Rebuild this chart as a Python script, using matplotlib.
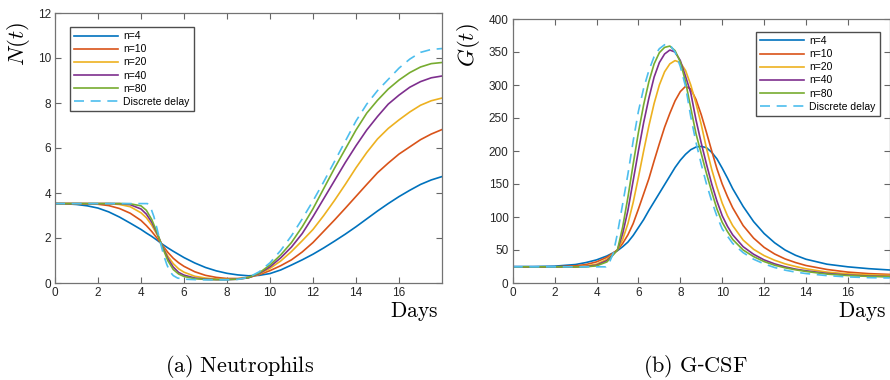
import matplotlib
matplotlib.use("Agg")
import matplotlib.pyplot as plt

plt.rcParams['font.family'] = ['Liberation Sans', 'DejaVu Sans']
plt.rcParams['mathtext.fontset'] = 'cm'

# ---- Neutrophils N(t) ----
t_n = [0, 0.5, 1, 1.5, 2, 2.5, 3, 3.5, 4, 4.25, 4.5, 4.75, 5, 5.25, 5.5, 5.75, 6, 6.5,
       7, 7.5, 8, 8.5, 9, 9.5, 10, 10.5, 11, 11.5, 12, 12.5, 13, 13.5, 14, 14.5, 15,
       15.5, 16, 16.5, 17, 17.5, 18]
n4_N = [3.53, 3.52, 3.49, 3.43, 3.33, 3.16, 2.93, 2.66, 2.38, 2.22, 2.07, 1.9, 1.72,
        1.56, 1.41, 1.27, 1.13, 0.89, 0.69, 0.54, 0.43, 0.36, 0.32, 0.34, 0.42, 0.58,
        0.8, 1.03, 1.28, 1.56, 1.86, 2.17, 2.5, 2.85, 3.2, 3.53, 3.84, 4.12, 4.38,
        4.58, 4.73]
n10_N = [3.53, 3.53, 3.53, 3.52, 3.5, 3.44, 3.31, 3.1, 2.78, 2.55, 2.29, 1.99, 1.67,
         1.36, 1.1, 0.9, 0.74, 0.5, 0.34, 0.25, 0.2, 0.2, 0.25, 0.37, 0.55, 0.77, 1.03,
         1.38, 1.8, 2.3, 2.8, 3.32, 3.85, 4.38, 4.9, 5.33, 5.73, 6.05, 6.37, 6.62, 6.82]
n20_N = [3.53, 3.53, 3.53, 3.53, 3.53, 3.53, 3.49, 3.39, 3.12, 2.9, 2.57, 2.14, 1.64,
         1.19, 0.86, 0.63, 0.48, 0.3, 0.22, 0.18, 0.17, 0.18, 0.24, 0.4, 0.65, 0.98,
         1.4, 1.88, 2.38, 3.0, 3.67, 4.38, 5.12, 5.8, 6.4, 6.87, 7.25, 7.6, 7.9, 8.1,
         8.22]
n40_N = [3.53, 3.53, 3.53, 3.53, 3.53, 3.53, 3.53, 3.48, 3.29, 3.06, 2.7, 2.2, 1.62,
         1.09, 0.71, 0.47, 0.35, 0.22, 0.17, 0.15, 0.15, 0.17, 0.23, 0.42, 0.72, 1.12,
         1.6, 2.2, 2.95, 3.75, 4.55, 5.35, 6.1, 6.8, 7.4, 7.95, 8.35, 8.7, 8.95, 9.12,
         9.2]
n80_N = [3.53, 3.53, 3.53, 3.53, 3.53, 3.53, 3.53, 3.52, 3.43, 3.23, 2.82, 2.24, 1.58,
         0.99, 0.6, 0.4, 0.29, 0.19, 0.16, 0.15, 0.15, 0.17, 0.24, 0.45, 0.8, 1.25,
         1.8, 2.5, 3.3, 4.2, 5.1, 5.95, 6.8, 7.55, 8.12, 8.62, 9.02, 9.35, 9.6, 9.75,
         9.8]
t_n_dd = [0, 4.3, 4.45, 4.6, 4.75, 4.9, 5.05, 5.2, 5.35, 5.5, 5.7, 6, 6.5, 7, 8, 8.5, 9,
          9.5, 10, 10.5, 11, 11.5, 12, 12.5, 13, 13.5, 14, 14.5, 15, 15.5, 16, 16.5,
          17, 17.5, 18]
dd_N = [3.53, 3.53, 3.35, 2.95, 2.4, 1.8, 1.25, 0.82, 0.5, 0.33, 0.22, 0.17, 0.15, 0.14,
        0.14, 0.16, 0.25, 0.5, 0.9, 1.45, 2.1, 2.85, 3.65, 4.5, 5.4, 6.3, 7.2, 7.95,
        8.55, 9.05, 9.55, 9.95, 10.25, 10.38, 10.42]

# ---- G-CSF G(t) ----
t_g = [0, 1, 2, 3, 3.5, 4, 4.5, 5, 5.25, 5.5, 5.75, 6, 6.25, 6.5, 6.75, 7, 7.25, 7.5,
       7.75, 8, 8.25, 8.5, 8.75, 9, 9.25, 9.5, 9.75, 10, 10.25, 10.5, 11, 11.5, 12,
       12.5, 13, 13.5, 14, 15, 16, 17, 18]
n4_G = [25, 25, 25.5, 28, 31, 35, 41, 49, 55, 62, 72, 84, 96, 110, 123, 136, 149, 162,
        175, 186, 195, 202, 206, 207, 205, 198, 188, 174, 159, 143, 116, 93, 75, 61, 50,
        42, 36, 28.5, 24.5, 21.7, 19.7]
n10_G = [24.5, 24.5, 24.5, 26, 28, 32, 39, 50, 60, 73, 90, 112, 135, 158, 185, 211, 236,
         257, 276, 290, 298, 294, 278, 255, 228, 200, 173, 150, 131, 114, 87, 68, 54, 44,
         36.5, 31, 26.5, 20.5, 16.5, 14.2, 13]
n20_G = [24.5, 24.5, 24.5, 24.5, 26, 28.5, 36, 50, 66, 90, 122, 160, 200, 238, 272, 300,
         320, 332, 337, 334, 322, 300, 272, 240, 204, 172, 145, 121, 102, 87, 65, 51,
         41.5, 34.5, 29, 25, 21.5, 16.5, 13.8, 12.3, 11.6]
n40_G = [24.5, 24.5, 24.5, 24.5, 25, 27, 34, 50, 75, 110, 155, 200, 243, 280, 312, 334,
         347, 353, 350, 337, 313, 288, 247, 212, 180, 150, 124, 102, 86, 73, 55, 43.5,
         35, 29, 24.5, 21, 18.5, 14.5, 12, 10.6, 9.8]
n80_G = [24.5, 24.5, 24.5, 24.5, 24.5, 26, 32, 50, 85, 130, 180, 228, 270, 305, 332, 349,
         357, 359, 352, 335, 305, 265, 226, 196, 166, 138, 112, 92, 78, 66, 50, 40,
         32.5, 27, 23, 20, 17.5, 13.5, 11.3, 10, 9.4]
t_g_dd = [0, 4.45, 4.6, 4.8, 5, 5.25, 5.5, 5.75, 6, 6.25, 6.5, 6.75, 7, 7.25, 7.5, 7.75,
          8, 8.25, 8.5, 8.75, 9, 9.25, 9.5, 9.75, 10, 10.5, 11, 11.5, 12, 12.5, 13, 13.5,
          14, 15, 16, 17, 18]
dd_G = [24.5, 24.5, 30, 45, 75, 120, 165, 215, 260, 295, 322, 343, 355, 361, 361, 350,
        328, 298, 252, 213, 180, 150, 124, 101, 82, 60, 46, 36, 29, 23.5, 19.5, 16.5,
        14.3, 11.2, 9.2, 8.1, 7.6]

labels = ['n=4', 'n=10', 'n=20', 'n=40', 'n=80', 'Discrete delay']
colors = ['#0072BD', '#D95319', '#EDB120', '#7E2F8E', '#77AC30', '#4DBEEE']

fig = plt.figure(figsize=(8.9, 3.8), dpi=100)
W, H = 890, 380


def px_axes(x0, y0, x1, y1):
    return fig.add_axes([x0 / W, 1 - y1 / H, (x1 - x0) / W, (y1 - y0) / H])


def style(ax):
    ax.set_xlim(0, 18)
    ax.set_xticks(range(0, 17, 2))
    ax.tick_params(direction='in', top=True, right=True, length=4, width=0.8,
                   labelsize=8.5, colors='0.15', color='0.4', pad=3)
    for s in ax.spines.values():
        s.set_color('0.45')
        s.set_linewidth(0.9)


ax1 = px_axes(55, 13, 442, 283)
series_N = [n4_N, n10_N, n20_N, n40_N, n80_N]
for y, c, lab in zip(series_N, colors, labels):
    ax1.plot(t_n, y, color=c, lw=1.2, label=lab)
ax1.plot(t_n_dd, dd_N, color=colors[5], lw=1.2, ls=(0, (6, 4)), label=labels[5])
ax1.set_ylim(0, 12)
style(ax1)
ax1.legend(loc='upper left', bbox_to_anchor=(0.039, 0.948), borderaxespad=0,
           fontsize=7.5, handlelength=4.2, labelspacing=0.3, fancybox=False,
           framealpha=1, edgecolor='0.3', borderpad=0.4, handletextpad=0.5)

ax2 = px_axes(512.7, 19, 889.8, 283)
series_G = [n4_G, n10_G, n20_G, n40_G, n80_G]
for y, c, lab in zip(series_G, colors, labels):
    ax2.plot(t_g, y, color=c, lw=1.2, label=lab)
ax2.plot(t_g_dd, dd_G, color=colors[5], lw=1.2, ls=(0, (6, 4)), label=labels[5])
ax2.set_ylim(0, 400)
ax2.set_yticks(range(0, 401, 50))
style(ax2)
ax2.legend(loc='upper left', bbox_to_anchor=(0.645, 0.951), borderaxespad=0,
           fontsize=7.5, handlelength=4.2, labelspacing=0.3, fancybox=False,
           framealpha=1, edgecolor='0.3', borderpad=0.4, handletextpad=0.5)

# axis labels, MATLAB-ish placement
fig.text(18 / W, 1 - 44 / H, r'$N(t)$', rotation=90, ha='center', va='center', fontsize=16.5)
fig.text(468 / W, 1 - 45 / H, r'$G(t)$', rotation=90, ha='center', va='center', fontsize=16.5)
fig.text(414 / W, 1 - 300 / H, r'$\mathrm{Days}$', ha='center', va='top', fontsize=15.5)
fig.text(862 / W, 1 - 300 / H, r'$\mathrm{Days}$', ha='center', va='top', fontsize=15.5)
fig.text(240 / W, 1 - 366 / H, r'$\mathrm{(a)\ Neutrophils}$', ha='center', va='center', fontsize=16)
fig.text(695 / W, 1 - 366 / H, r'$\mathrm{(b)\ G}$-$\mathrm{CSF}$', ha='center', va='center', fontsize=16)

fig.savefig('out.png', dpi=100)
